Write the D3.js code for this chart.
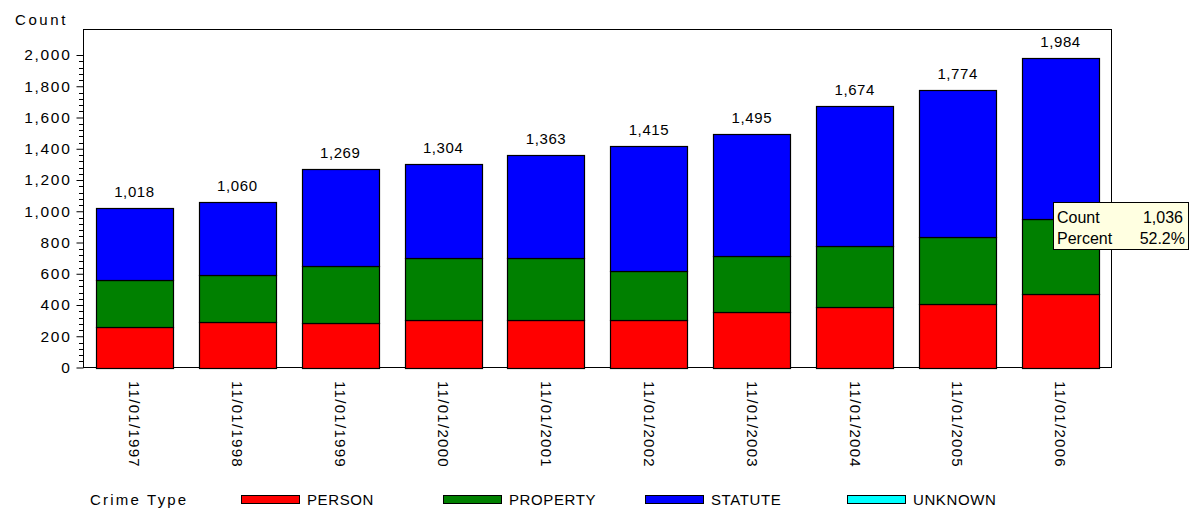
<!DOCTYPE html>
<html><head><meta charset="utf-8">
<script src="https://cdn.jsdelivr.net/npm/d3@7"></script>
<style>
body{margin:0;background:#fff;}
svg text{font-family:"Liberation Sans",Arial,sans-serif;fill:#000;}
</style></head>
<body><svg id="chart" width="1192" height="509"></svg>
<script>
const categories = ["11/01/1997","11/01/1998","11/01/1999","11/01/2000","11/01/2001","11/01/2002","11/01/2003","11/01/2004","11/01/2005","11/01/2006"];
const person   = [261, 293, 283, 304, 302, 304, 355, 389, 408, 472];
const property = [301, 301, 365, 395, 396, 314, 357, 386, 429, 476];
const statute  = [456, 466, 621, 605, 665, 797, 783, 899, 937, 1036];
const unknown  = [0, 0, 0, 0, 0, 0, 0, 0, 0, 0];
const seriesNames = ["PERSON","PROPERTY","STATUTE","UNKNOWN"];
const seriesColors = ["#ff0000","#008000","#0000ff","#00ffff"];
const yTicks = [0,200,400,600,800,1000,1200,1400,1600,1800,2000];
const tooltipIndex = 9, tooltipSeries = 2;

const svg = d3.select("#chart");
const L = 83, R = 1112, T = 29, B = 367.5;

const rows = categories.map((c,i)=>({cat:c, PERSON:person[i], PROPERTY:property[i], STATUTE:statute[i], UNKNOWN:unknown[i]}));
const stacked = d3.stack().keys(seriesNames)(rows);
const totals = rows.map(r=>seriesNames.reduce((s,k)=>s+r[k],0));

const x = d3.scaleBand().domain(categories).range([L,R]).paddingInner(0.25).paddingOuter(0.125);
const y = d3.scaleLinear().domain([0,2000]).range([B,55]);

// frame
svg.append("rect").attr("x",L+0.5).attr("y",T+0.5).attr("width",R-L-1).attr("height",B-T-0.5)
  .attr("fill","none").attr("stroke","#000").attr("stroke-width",1);

// bars
stacked.forEach((s,si)=>{
  svg.append("g").selectAll("rect").data(s.filter(d=>d[1]>d[0])).join("rect")
    .attr("x",d=>Math.round(x(d.data.cat))+0.5)
    .attr("y",d=>Math.round(y(d[1]))+0.5)
    .attr("width",Math.round(x.bandwidth()))
    .attr("height",d=>Math.round(y(d[0]))-Math.round(y(d[1])))
    .attr("fill",seriesColors[si]).attr("stroke","#000").attr("stroke-width",1.2);
});

// totals
svg.append("g").selectAll("text").data(rows).join("text")
  .attr("x",(d)=>x(d.cat)+x.bandwidth()/2)
  .attr("y",(d,i)=>y(totals[i])-11)
  .attr("text-anchor","middle").attr("font-size",15).attr("letter-spacing",0.6)
  .text((d,i)=>d3.format(",")(totals[i]));

// y axis
const yAxis = d3.axisLeft(y).tickValues(yTicks).tickFormat(d3.format(",")).tickSize(7).tickPadding(5);
const gy = svg.append("g").attr("transform",`translate(${L+0.5},0)`).call(yAxis);
gy.select(".domain").remove();
gy.selectAll("text").attr("font-size",15.5).attr("letter-spacing",1.7).attr("font-family","Liberation Sans, Arial, sans-serif").attr("fill","#000");
gy.selectAll("line").attr("stroke","#000");
const minor = d3.range(0,2001,40).filter(v=>v%200!==0);
svg.append("g").selectAll("line").data(minor).join("line")
  .attr("x1",L-4).attr("x2",L).attr("y1",d=>Math.round(y(d))+0.5).attr("y2",d=>Math.round(y(d))+0.5)
  .attr("stroke","#000");

svg.append("text").attr("x",15).attr("y",25).attr("font-size",15).attr("letter-spacing",2.6).text("Count");

// x labels
svg.append("g").selectAll("text").data(categories).join("text")
  .attr("transform",d=>`translate(${x(d)+x.bandwidth()/2},381) rotate(90)`)
  .attr("dy","0.35em").attr("font-size",15).attr("letter-spacing",1.3).text(d=>d);

// legend
const lg = svg.append("g");
lg.append("text").attr("x",90).attr("y",505).attr("font-size",15).attr("letter-spacing",2.2).text("Crime Type");
seriesNames.forEach((n,i)=>{
  const sx = 241 + i*202;
  lg.append("rect").attr("x",sx+0.5).attr("y",495.5).attr("width",58).attr("height",8)
    .attr("fill",seriesColors[i]).attr("stroke","#000");
  lg.append("text").attr("x",sx+66).attr("y",505).attr("font-size",15).attr("letter-spacing",0.6).text(n);
});

// tooltip
const tv = statute[tooltipIndex], tt = totals[tooltipIndex];
const tg = svg.append("g");
tg.append("rect").attr("x",1053.5).attr("y",202.5).attr("width",135).attr("height",47)
  .attr("fill","#ffffe1").attr("stroke","#000");
const tf = "DejaVu Sans, sans-serif";
tg.append("text").attr("x",1057).attr("y",223).attr("font-family",tf).attr("font-size",16).text("Count");
tg.append("text").attr("x",1183).attr("y",223).attr("font-family",tf).attr("font-size",16).attr("text-anchor","end").text(d3.format(",")(tv));
tg.append("text").attr("x",1057).attr("y",244).attr("font-family",tf).attr("font-size",16).text("Percent");
tg.append("text").attr("x",1185).attr("y",244).attr("font-family",tf).attr("font-size",16).attr("text-anchor","end").text(d3.format(".1%")(tv/tt));
</script></body></html>
